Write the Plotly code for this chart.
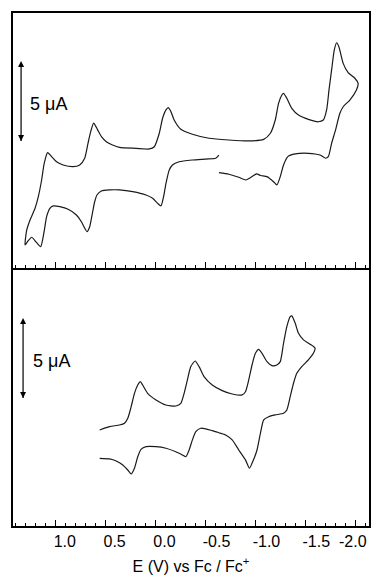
import plotly.graph_objects as go

# ---------------- data ----------------
# Top panel CV: potential (V vs Fc/Fc+) and current (uA, arbitrary offset)
top_E = [-0.635, -0.602, -0.503, -0.369, -0.236, -0.169, -0.137, -0.104, -0.080, -0.054,
         -0.020, 0.030, 0.096, 0.229, 0.362, 0.462, 0.544, 0.588, 0.611, 0.634,
         0.661, 0.688, 0.711, 0.744, 0.794, 0.877, 0.960, 1.027, 1.060, 1.093,
         1.110, 1.127, 1.153, 1.199, 1.242, 1.279, 1.309,
         1.292, 1.259, 1.209, 1.176, 1.143, 1.117, 1.083, 1.043, 0.993, 0.927,
         0.828, 0.761, 0.711, 0.678, 0.651, 0.621, 0.581, 0.541, 0.494, 0.432,
         0.362, 0.195, 0.063, 0.013, -0.037, -0.070, -0.104, -0.127, -0.154, -0.186,
         -0.253, -0.369, -0.535, -0.735, -0.934, -1.084, -1.151, -1.200, -1.233, -1.266,
         -1.283, -1.316, -1.366, -1.433, -1.532, -1.632, -1.682, -1.715, -1.739, -1.765,
         -1.792, -1.815, -1.838, -1.881, -1.931, -1.998, -2.031,
         -2.014, -1.948, -1.881, -1.848, -1.805, -1.765, -1.732, -1.705, -1.649, -1.532,
         -1.400, -1.326, -1.283, -1.250, -1.216, -1.183, -1.117, -1.054, -1.014, -0.954,
         -0.904, -0.834, -0.735, -0.635]
top_I = [7.06, 6.86, 6.81, 6.75, 6.64, 6.44, 6.13, 5.29, 4.46, 3.88,
         4.04, 4.36, 4.56, 4.77, 4.88, 4.88, 4.81, 4.56, 4.14, 3.42,
         2.58, 2.27, 2.48, 2.89, 3.31, 3.67, 3.83, 3.88, 3.73, 3.21,
         2.58, 1.96, 1.33, 1.63, 1.92, 1.69, 1.44,
         2.38, 3.00, 3.73, 4.46, 5.50, 6.54, 7.21, 6.96, 6.64, 6.44,
         6.33, 6.44, 6.86, 7.79, 8.52, 9.06, 8.63, 8.19, 7.89, 7.69,
         7.54, 7.48, 7.44, 7.58, 8.42, 9.36, 9.88, 10.02, 9.77, 9.25,
         8.67, 8.36, 8.11, 8.00, 7.94, 8.04, 8.42, 9.25, 10.29, 10.81,
         10.92, 10.61, 9.98, 9.56, 9.29, 9.14, 9.25, 9.88, 11.13, 12.38,
         13.63, 14.08, 13.83, 12.79, 12.21, 11.86, 11.54,
         11.13, 10.50, 10.08, 9.67, 8.63, 7.79, 6.96, 6.86, 7.06, 7.17,
         7.13, 6.96, 6.44, 5.71, 5.19, 5.39, 5.71, 5.78, 5.88, 5.66,
         5.50, 5.67, 5.86, 5.96]

# Bottom panel CV
bot_E = [0.561, 0.462, 0.362, 0.312, 0.279, 0.245, 0.212, 0.179, 0.153, 0.130,
         0.080, -0.004, -0.104, -0.203, -0.253, -0.286, -0.319, -0.353, -0.396, -0.436,
         -0.486, -0.568, -0.668, -0.768, -0.867, -0.901, -0.934, -0.967, -1.001, -1.034,
         -1.067, -1.117, -1.167, -1.216, -1.250, -1.283, -1.316, -1.350, -1.366, -1.400,
         -1.433, -1.483, -1.549, -1.599,
         -1.582, -1.532, -1.466, -1.416, -1.383, -1.350, -1.316, -1.283, -1.200, -1.134,
         -1.084, -1.051, -1.017, -0.967, -0.941, -0.901, -0.834, -0.768, -0.702, -0.635,
         -0.568, -0.453, -0.403, -0.369, -0.336, -0.303, -0.269, -0.203, -0.104, -0.004,
         0.096, 0.146, 0.179, 0.212, 0.245, 0.279, 0.329, 0.395, 0.462, 0.561]
bot_I = [6.00, 6.21, 6.31, 6.42, 6.73, 7.46, 8.29, 8.81, 9.02, 8.81,
         8.29, 7.88, 7.56, 7.50, 7.67, 8.29, 9.13, 9.96, 10.31, 9.96,
         9.33, 8.81, 8.46, 8.25, 8.19, 8.39, 9.13, 10.06, 10.79, 11.04,
         10.79, 10.27, 10.02, 10.06, 10.27, 11.42, 12.46, 13.08, 13.13, 12.67,
         12.04, 11.63, 11.36, 11.11,
         10.79, 10.38, 9.96, 9.54, 8.92, 8.08, 7.25, 7.04, 6.94, 6.83,
         6.63, 5.79, 4.75, 3.92, 3.61, 4.13, 4.75, 5.38, 5.69, 5.83,
         5.96, 6.11, 5.89, 5.38, 4.75, 4.33, 4.44, 4.64, 4.86, 4.96,
         4.96, 4.79, 4.33, 3.61, 3.25, 3.50, 3.81, 4.06, 4.19, 4.23]

NB = "\u00a0"
tick_vals = [1.0, 0.5, 0.0, -0.5, -1.0, -1.5, -2.0]
tick_text = [NB * 4 + "1.0", NB * 4 + "0.5", NB * 4 + "0.0",
             NB * 5 + "-0.5", NB * 5 + "-1.0", NB * 5 + "-1.5", "-2.0" + NB]

scale_uA = 5.0
scale_label = "5 \u03bcA"
# scale bar anchor (E position, top current) for each panel
top_bar = (1.349, 12.94)
bot_bar = (1.329, 13.0)
top_lbl = (1.07, 10.28)
bot_lbl = (1.04, 10.31)

x_range = [1.43, -2.14]
top_range = [0, 15.94]
bot_range = [0, 16.125]
split = 0.503

FONT = "Liberation Sans, Arial, Helvetica, sans-serif"
line_style = dict(color="#1a1a1a", width=1.2, shape="spline", smoothing=0.6)

fig = go.Figure()
fig.add_trace(go.Scatter(x=top_E, y=top_I, mode="lines", line=line_style,
                         xaxis="x2", yaxis="y2", showlegend=False, hoverinfo="skip"))
fig.add_trace(go.Scatter(x=bot_E, y=bot_I, mode="lines", line=line_style,
                         xaxis="x", yaxis="y", showlegend=False, hoverinfo="skip"))

# double-headed 5 uA scale bars
for (bx, by), xr, yr in [(top_bar, "x2", "y2"), (bot_bar, "x", "y")]:
    fig.add_trace(go.Scatter(x=[bx, bx], y=[by - scale_uA, by], mode="lines+markers",
                             line=dict(color="black", width=1.2),
                             marker=dict(symbol=["arrow-down", "arrow-up"], size=6,
                                         color="black", line=dict(width=0)),
                             xaxis=xr, yaxis=yr, showlegend=False, hoverinfo="skip"))

axis_common = dict(showline=True, linecolor="black", linewidth=1.5,
                   showgrid=False, zeroline=False)

fig.update_layout(
    width=376, height=586,
    margin=dict(l=13, r=5, t=13, b=60),
    paper_bgcolor="white", plot_bgcolor="white",
    font=dict(family=FONT, size=16, color="black"),
    xaxis=dict(domain=[0, 1], anchor="y", range=x_range, mirror=False,
               tickmode="array", tickvals=tick_vals, ticktext=tick_text,
               ticks="inside", ticklen=6, tickwidth=1.2, tickcolor="black",
               tickangle=0, ticklabelstandoff=0,
               minor=dict(ticks="inside", ticklen=3.5, dtick=0.1, tick0=0,
                          tickwidth=1, tickcolor="black"),
               title=dict(text="E (V) vs Fc / Fc<sup>+</sup>", standoff=12,
                          font=dict(size=16)),
               **axis_common),
    yaxis=dict(domain=[0, split], anchor="x", range=bot_range, mirror=True,
               showticklabels=False, ticks="", **axis_common),
    xaxis2=dict(domain=[0, 1], anchor="y2", range=x_range, matches="x", mirror=True,
                tickmode="array", tickvals=tick_vals, showticklabels=False,
                ticks="inside", ticklen=6, tickwidth=1.2, tickcolor="black",
                minor=dict(ticks="inside", ticklen=3.5, dtick=0.1, tick0=0,
                           tickwidth=1, tickcolor="black"),
                **axis_common),
    yaxis2=dict(domain=[split, 1], anchor="x2", range=top_range, mirror=True,
                showticklabels=False, ticks="", **axis_common),
)

annotations = []
for (lx, ly), xr, yr in [(top_lbl, "x2", "y2"), (bot_lbl, "x", "y")]:
    annotations.append(dict(x=lx, y=ly, xref=xr, yref=yr, text=scale_label,
                            showarrow=False, font=dict(size=18, family=FONT)))
fig.update_layout(annotations=annotations)

fig.write_html("out.html")
